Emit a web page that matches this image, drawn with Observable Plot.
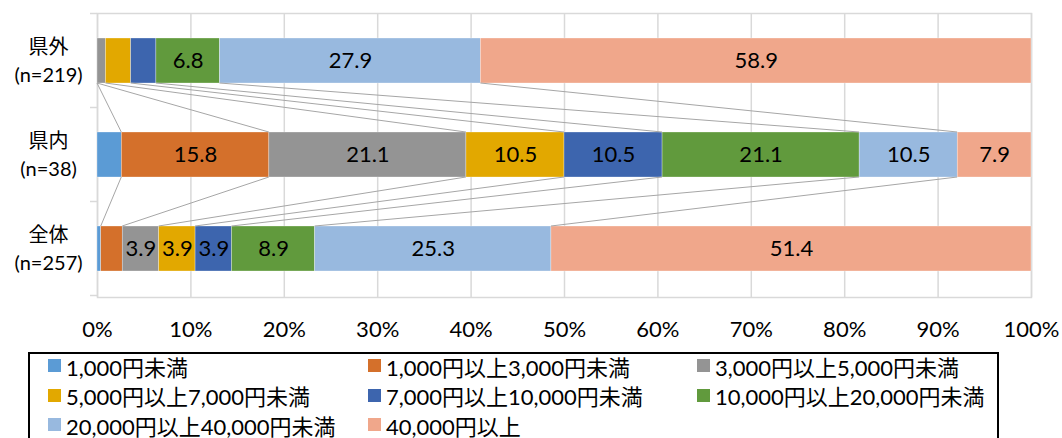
<!DOCTYPE html>
<html>
<head>
<meta charset="utf-8">
<script src="https://cdn.jsdelivr.net/npm/d3@7"></script>
<script src="https://cdn.jsdelivr.net/npm/@observablehq/plot@0.6"></script>
<style>
  html, body { margin: 0; padding: 0; background: #fff; overflow: hidden; width: 1062px; height: 438px; }
  #chart { position: absolute; left: 0; top: 0; }
  #legend {
    position: absolute; left: 28px; top: 352px; width: 971px; height: 100px;
    border: 2px solid #000; box-sizing: border-box;
    font-family: Lato, "Noto Sans CJK JP", sans-serif; font-size: 22px; color: #000;
  }
  #legend .grid {
    position: absolute; left: 18px; top: -3px;
    display: grid; grid-template-columns: 320px 329px 300px; grid-auto-rows: 29.5px;
  }
  #legend .item { display: flex; align-items: center; white-space: nowrap; }
  #legend .sw { width: 13px; height: 13px; margin-right: 5px; flex: none; }
</style>
</head>
<body>
<div id="chart"></div>
<div id="legend"><div class="grid"></div></div>
<script>
// ---- data ----
const categories = ["県外", "県内", "全体"];
const sampleSizes = ["(n=219)", "(n=38)", "(n=257)"];
const seriesNames = [
  "1,000円未満",
  "1,000円以上3,000円未満",
  "3,000円以上5,000円未満",
  "5,000円以上7,000円未満",
  "7,000円以上10,000円未満",
  "10,000円以上20,000円未満",
  "20,000円以上40,000円未満",
  "40,000円以上"
];
const colors = ["#5B9BD5", "#D4702B", "#949494", "#E2A800", "#3D65AE", "#619A3D", "#98B9DF", "#F0A78B"];
const kengaiValues = [0, 0, 0.9, 2.7, 2.7, 6.8, 27.9, 58.9];
const kennaiValues = [2.6, 15.8, 21.1, 10.5, 10.5, 21.1, 10.5, 7.9];
const zentaiValues = [0.4, 2.3, 3.9, 3.9, 3.9, 8.9, 25.3, 51.4];
const xTicks = [0, 0.1, 0.2, 0.3, 0.4, 0.5, 0.6, 0.7, 0.8, 0.9, 1];

// ---- build table ----
const valuesByCat = [kengaiValues, kennaiValues, zentaiValues];
const rows = [];
categories.forEach((c, i) => {
  valuesByCat[i].forEach((v, s) => rows.push({cat: c, series: seriesNames[s], value: v}));
});
const nLabel = Object.fromEntries(categories.map((c, i) => [c, sampleSizes[i]]));

// cumulative normalized ends per category
const cumByCat = valuesByCat.map(vals => {
  const total = d3.sum(vals);
  let acc = 0;
  return vals.map(v => (acc += v) / total);
});

const font = 'Lato, "Noto Sans CJK JP", sans-serif';

function seriesLines(index, scales) {
  const x = scales.x, y = scales.y;
  const bw = y.bandwidth();
  const g = d3.create("svg:g").attr("stroke", "#A6A6A6").attr("stroke-width", 1).attr("fill", "none");
  for (let k = 0; k < categories.length - 1; k++) {
    const a = cumByCat[k], b = cumByCat[k + 1];
    for (let s = 0; s < seriesNames.length - 1; s++) {
      g.append("line")
        .attr("x1", x(a[s])).attr("y1", y(categories[k]) + bw)
        .attr("x2", x(b[s])).attr("y2", y(categories[k + 1]));
    }
  }
  return g.node();
}

function yTicks(index, scales) {
  const x = scales.x, y = scales.y;
  const bw = y.bandwidth(), step = y.step();
  const x0 = x(0);
  const g = d3.create("svg:g").attr("stroke", "#D9D9D9").attr("stroke-width", 1.5);
  const bounds = [];
  categories.forEach((c, i) => {
    const start = y(c) - (step - bw) / 2;
    if (i === 0) bounds.push(start);
    bounds.push(start + step);
  });
  bounds.forEach(b => g.append("line").attr("x1", x0 - 7).attr("x2", x0).attr("y1", b).attr("y2", b));
  return g.node();
}

const chart = Plot.plot({
  width: 1062,
  height: 345,
  marginLeft: 97,
  marginRight: 31,
  marginTop: 13,
  marginBottom: 48,
  style: {fontFamily: font, background: "#fff", color: "#000"},
  x: {domain: [0, 1]},
  y: {domain: categories, paddingInner: 0.516, paddingOuter: 0.253},
  color: {domain: seriesNames, range: colors},
  marks: [
    Plot.ruleX(xTicks, {stroke: "#D9D9D9", strokeWidth: 1.5}),
    Plot.frame({stroke: "#D9D9D9", strokeWidth: 1.5}),
    yTicks,
    Plot.barX(rows, Plot.stackX({
      x: "value", y: "cat", fill: "series", order: seriesNames, offset: "normalize",
      stroke: "#fff", strokeWidth: 0.5, strokeOpacity: 0.6
    })),
    Plot.text(rows, Plot.stackX({
      x: "value", y: "cat", z: "series", order: seriesNames, offset: "normalize",
      text: d => d.value >= 3 ? d.value.toFixed(1) : "",
      fill: "#000", fontSize: 22
    })),
    seriesLines,
    Plot.axisX({ticks: xTicks, tickFormat: d3.format(".0%"), tickSize: 0, tickPadding: 24, fontSize: 22, fill: "#000", label: null}),
    Plot.axisY({
      tickSize: 0, tickPadding: 49, textAnchor: "middle", fontSize: 20, lineHeight: 1.4,
      tickFormat: c => c + "\n" + nLabel[c], dy: -2, fill: "#000", label: null
    })
  ]
});
document.getElementById("chart").appendChild(chart);

// ---- legend ----
const grid = d3.select("#legend .grid");
seriesNames.forEach((name, i) => {
  const item = grid.append("div").attr("class", "item");
  item.append("span").attr("class", "sw").style("background", colors[i]);
  item.append("span").text(name);
});
</script>
</body>
</html>
